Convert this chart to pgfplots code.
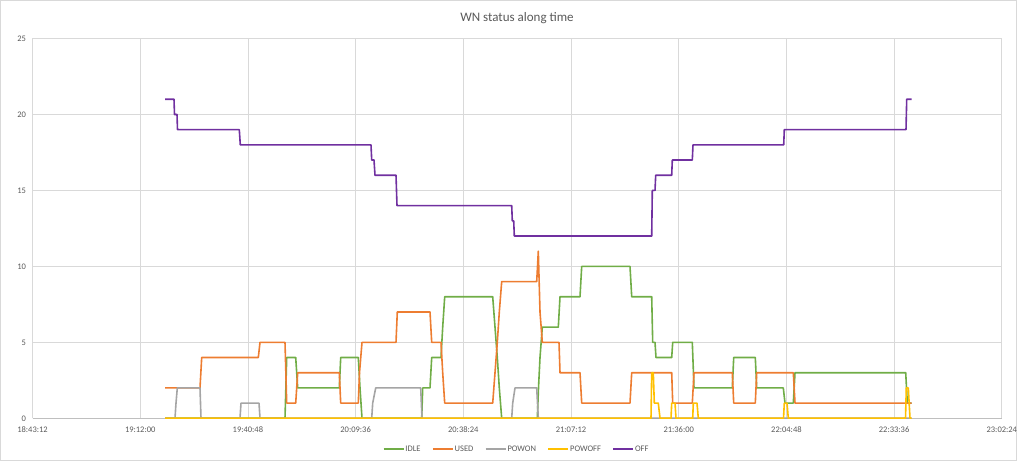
\documentclass[border=0pt]{standalone}
\usepackage{fontspec}
\setmainfont{Carlito}
\usepackage{pgfplots}
\pgfplotsset{compat=1.18}
\definecolor{cIdle}{HTML}{70AD47}
\definecolor{cUsed}{HTML}{ED7D31}
\definecolor{cPowon}{HTML}{A5A5A5}
\definecolor{cPowoff}{HTML}{FFC000}
\definecolor{cOff}{HTML}{7030A0}
\definecolor{cGrid}{HTML}{D9D9D9}
\definecolor{cAxis}{HTML}{BFBFBF}
\definecolor{cText}{HTML}{595959}
\begin{document}
\begin{tikzpicture}
\useasboundingbox (0,0) rectangle (1017bp,461bp);
\draw[cGrid, line width=0.8bp] (0.5bp,0.5bp) rectangle (1016.5bp,460.5bp);
\node[text=cText, font=\fontsize{13bp}{15bp}\selectfont] at (517bp,443bp) {WN status along time};
\begin{axis}[
  at={(32.5bp,42.7bp)}, anchor=south west,
  scale only axis, width=969.3bp, height=379.8bp,
  xmin=32.5, xmax=1001.8, ymin=0, ymax=25,
  xtick={32.5,140.2,247.9,355.6,463.3,571.0,678.7,786.4,894.1,1001.8},
  xticklabels={18:43:12,19:12:00,19:40:48,20:09:36,20:38:24,21:07:12,21:36:00,22:04:48,22:33:36,23:02:24},
  ytick={0,5,10,15,20,25},
  major tick length=0pt,
  xmajorgrids, ymajorgrids,
  grid style={cGrid, line width=0.8bp},
  axis line style={draw=none},
  extra y ticks={0}, extra y tick labels={},
  extra y tick style={grid style={cAxis, line width=1bp}},
  tick label style={text=cText, font=\fontsize{8.5bp}{10bp}\selectfont},
  /pgf/number format/assume math mode=true,
  xticklabel style={yshift=-5bp},
  yticklabel style={xshift=-3bp},
  legend columns=5,
  legend style={at={(0.499,-0.081)}, anchor=center, draw=none, fill=none,
    font=\fontsize{8.5bp}{10bp}\selectfont, text=cText,
    nodes={inner sep=1bp},
    /tikz/every even column/.append style={column sep=10.5bp}},
  legend image code/.code={\draw[#1] (0bp,0bp) -- (20bp,0bp);},
  every axis plot/.append style={line width=1.6bp, line join=round},
]
\addplot[cIdle] coordinates {(165,0) (285,0) (286.7,4) (295.7,4) (297.7,2) (339.3,2) (340.7,4) (358.3,4) (360,2) (362,0) (421.7,0) (422.7,2) (430,2) (431.7,4) (441,4) (442.7,6) (444.7,8) (492.7,8) (495,6) (497.3,4) (499.3,2) (501.7,0) (537.3,0) (538.5,2) (540,4) (542.3,6) (558.3,6) (560,8) (580,8) (581.7,10) (630,10) (631.7,8) (651.7,8) (652.7,5) (655,5) (656,4) (671.7,4) (672.7,5) (692.3,5) (694,2) (732.3,2) (733.7,4) (755.3,4) (756.7,2) (783.3,2) (785,1) (793.3,1) (795,3) (905.7,3) (907.3,1) (911.7,1)};
\addlegendentry{IDLE}
\addplot[cUsed] coordinates {(165,2) (200,2) (201.7,4) (258.3,4) (260,5) (285,5) (286.7,1) (295.7,1) (297.7,3) (339.3,3) (340.7,1) (358.3,1) (359.5,3) (362,5) (396,5) (397.3,7) (430,7) (431.7,5) (441,5) (442.7,3) (444.7,1) (492.7,1) (495,3) (497.3,5) (499.3,7) (501.7,9) (536.7,9) (538.3,11) (540,7) (542.3,5) (559,5) (560,3) (580,3) (581.7,1) (630,1) (631.7,3) (671.7,3) (672.7,1) (692.3,1) (694,3) (732.3,3) (733.7,1) (755.3,1) (756.7,3) (793.3,3) (795,1) (911.7,1)};
\addlegendentry{USED}
\addplot[cPowon] coordinates {(165,0) (175,0) (176,1) (177.3,2) (200,2) (201,0) (240,0) (241,1) (259,1) (260,0) (371.7,0) (372.7,1) (375.7,2) (420.7,2) (422,0) (511.7,0) (512.7,1) (515,2) (536.7,2) (538.3,0) (911.7,0)};
\addlegendentry{POWON}
\addplot[cPowoff] coordinates {(165,0) (651,0) (651.7,3) (653.3,3) (654.3,1) (658.3,1) (660,0) (671,0) (671.7,1) (675,1) (676,0) (692.7,0) (693.3,1) (697,1) (698.3,0) (783.5,0) (784.3,1) (787,1) (788.3,0) (905.5,0) (906.3,2) (908.3,2) (910,0) (911.7,0)};
\addlegendentry{POWOFF}
\addplot[cOff] coordinates {(165,21) (174,21) (174.5,20) (177,20) (177.5,19) (239.3,19) (240.3,18) (371,18) (371.7,17) (374,17) (375,16) (396,16) (397,14) (511.7,14) (512.3,13) (513.7,13) (514.3,12) (651.7,12) (652.3,15) (655,15) (655.7,16) (671.7,16) (672.3,17) (692.3,17) (693,18) (783.7,18) (784.3,19) (906,19) (906.7,21) (911.7,21)};
\addlegendentry{OFF}
\end{axis}
\end{tikzpicture}
\end{document}
